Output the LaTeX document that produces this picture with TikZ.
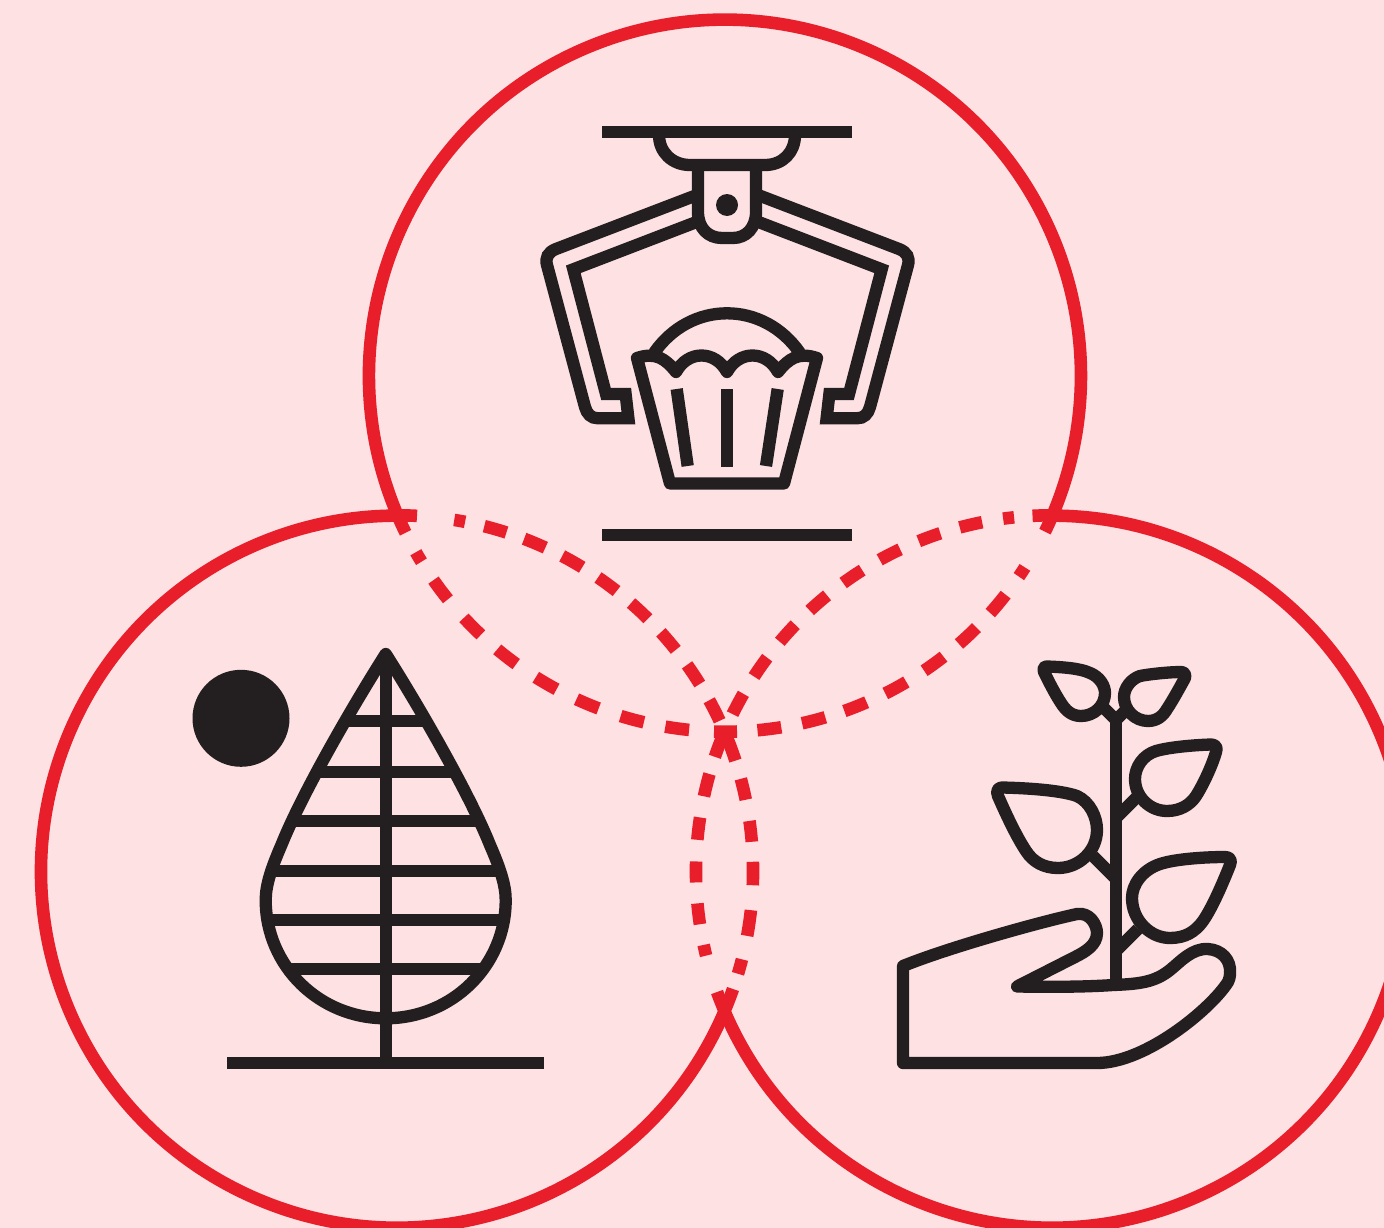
\documentclass[tikz,border=0pt]{standalone}
\definecolor{bgpink}{HTML}{FDE1E3}
\definecolor{ringred}{HTML}{E91E2B}
\definecolor{inkdark}{HTML}{231F20}
\tikzset{
  ring/.style={ringred, line width=12.6pt},
  toplow/.style={ring, dash pattern=on 18.6pt off 22pt on 11pt off 22pt on 24pt off 24.5pt on 24pt off 21.9pt on 24pt off 23.6pt on 24pt off 22.3pt on 24pt off 23.3pt on 24pt off 21.9pt on 24pt off 25pt on 23pt off 20.5pt on 24pt off 21.2pt on 24pt off 20pt on 24pt off 20.6pt on 24pt off 21pt on 24pt off 20pt on 24pt off 20pt on 24pt off 22.4pt on 11pt off 41pt on 20pt},
  leftup/.style={ring, dash pattern=on 20pt off 37.5pt on 11pt off 19.7pt on 23pt off 18.8pt on 23pt off 18.8pt on 23pt off 18.8pt on 23pt off 18.8pt on 23pt off 18.8pt on 23pt off 18.8pt on 23pt off 18.8pt on 23pt off 20pt},
  rightup/.style={ring, dash pattern=on 19.5pt off 18.5pt on 11pt off 21.3pt on 23pt off 20.3pt on 23pt off 20.3pt on 23pt off 20.3pt on 23pt off 20.3pt on 23pt off 20.3pt on 23pt off 20.3pt on 23pt off 20.3pt on 23pt off 20pt},
  leftlens/.style={ring, dash pattern=on 31pt off 19pt on 21.5pt off 21.5pt on 21pt off 20pt on 23.5pt off 25pt on 26pt off 24pt on 15pt off 16pt on 24pt off 10pt},
  rightlens/.style={ring, dash pattern=on 27pt off 18pt on 23pt off 21.5pt on 22.5pt off 21.7pt on 21pt off 21pt on 21pt off 21pt on 11pt off 38pt on 24pt off 10pt},
  ink/.style={inkdark, line width=12.3pt},
  inkround/.style={ink, line join=round}
}
\begin{document}
\begin{tikzpicture}[x=1pt,y=-1pt]
  \clip (0,0) rectangle (1384,1228);
  \fill[bgpink] (0,0) rectangle (1384,1228);

  \coordinate (lefttop) at (397,515.3);
  \coordinate (righttop) at (1052,515.3);
  \coordinate (topleft) at (397.8,515.9);
  \coordinate (mid) at (724.5,731.6);
  \coordinate (low) at (724.5,1011.3);

  \draw[ring] (low) arc[start angle=23.1, end angle=270, radius=356];
  \draw[ring] (low) arc[start angle=156.9, end angle=-90, radius=356];
  \draw[ring] (topleft) arc[start angle=156.8, end angle=383.2, radius=356];
  \draw[toplow] (topleft) arc[start angle=156.8, end angle=23.2, radius=356];
  \draw[leftup] (lefttop) arc[start angle=270, end angle=336.9, radius=356];
  \draw[rightup] (righttop) arc[start angle=270, end angle=203.1, radius=356];
  \draw[leftlens] (mid) arc[start angle=336.9, end angle=383.1, radius=356];
  \draw[rightlens] (mid) arc[start angle=203.1, end angle=156.9, radius=356];

  \draw[ink] (602,132) -- (852,132);
  \draw[ink] (602,535) -- (852,535);
  \draw[ink] (659,132) -- (659,135) .. controls (659,152) and (672,165) .. (690,165) -- (765,165) .. controls (783,165) and (795,152) .. (795,135) -- (795,132);
  \draw[ink] (698,165) -- (698,212) .. controls (698,228) and (708,238) .. (722,238) -- (733,238) .. controls (746,238) and (756,228) .. (756,212) -- (756,165);
  \fill[inkdark] (727,205) circle (11);
  \draw[ink] (697,195) -- (556,249) .. controls (548,252) and (545,258) .. (547,265) -- (585,407) .. controls (587,414) and (591,418.3) .. (598,418.3) -- (628.4,418.3) -- (625.6,394) -- (606,394) -- (573.3,269.3) -- (697,221.8);
  \draw[ink] (758,195) -- (899,249) .. controls (907,252) and (910,258) .. (908,265) -- (870,407) .. controls (868,414) and (864,418.3) .. (857,418.3) -- (826.6,418.3) -- (829.4,394) -- (849,394) -- (881.7,269.3) -- (758,221.8);

  \draw[inkround] (637,358) .. controls (655,352) and (665,358) .. (676,372) .. controls (688,350) and (715,350) .. (727,372) .. controls (739,350) and (766,350) .. (778,372) .. controls (789,358) and (799,352) .. (817,358) -- (784,483.5) -- (670,483.5) -- cycle;
  \draw[ink] (654,353) .. controls (672,327) and (699,313.3) .. (727,313.3) .. controls (755,313.3) and (782,327) .. (800,353);
  \draw[ink] (676.7,389) -- (687.7,466);
  \draw[ink] (727,389) -- (727,467);
  \draw[ink] (777.7,389) -- (766,466);

  \fill[inkdark] (241,718.3) circle (48.5);
  \draw[ink] (227,1062.7) -- (544.3,1062.7);
  \draw[ink] (385.7,665) -- (385.7,1062.7);
  \draw[inkround] (385.7,654) .. controls (420,708) and (470,795) .. (490,845) .. controls (500,868) and (505.7,885) .. (505.7,900) .. controls (505.7,966) and (452,1018.3) .. (385.7,1018.3) .. controls (319.4,1018.3) and (265.7,966) .. (265.7,900) .. controls (265.7,885) and (271.4,868) .. (281.4,845) .. controls (301.4,795) and (351.4,708) .. (385.7,654) -- cycle;
  \draw[ink] (343,721) -- (428,721);
  \draw[ink] (318,771.7) -- (453,771.7);
  \draw[ink] (291,820.7) -- (480,820.7);
  \draw[ink] (270,870.7) -- (501,870.7);
  \draw[ink] (269,920) -- (502,920);
  \draw[ink] (289,969.3) -- (482,969.3);

  \draw[inkround] (903,1063) -- (903,966) .. controls (950,947) and (1040,922) .. (1077,914) .. controls (1090,912) and (1097,925) .. (1097,933) .. controls (1097,945) and (1085,952) .. (1075,957) -- (1017,986.5) .. controls (1050,987) and (1085,987) .. (1113,985) .. controls (1140,984) and (1155,982) .. (1170,970) .. controls (1180,962) and (1192,948) .. (1208,949) .. controls (1222,950) and (1231,960) .. (1230,973) .. controls (1230,977) and (1229,980) .. (1228,982) .. controls (1210,1010) and (1145,1063) .. (1097,1063) -- cycle;
  \draw[ink] (1116,720) -- (1116,983);
  \draw[ink] (1103,707) -- (1116,720) -- (1127,709);
  \draw[ink] (1116,818) -- (1137,797);
  \draw[ink] (1116,879) -- (1093,856);
  \draw[ink] (1116,951) -- (1138,929);
  \draw[inkround] (1225,857) .. controls (1205,857) and (1175,859) .. (1160,864) .. controls (1142,870) and (1132,885) .. (1132,898) .. controls (1132,920) and (1150,938) .. (1170,938) .. controls (1185,938) and (1195,932) .. (1203,921) .. controls (1212,908) and (1222,885) .. (1230,865) .. controls (1232,860) and (1230,857) .. (1225,857) -- cycle;
  \draw[inkround] (1211,744.5) .. controls (1195,745) and (1170,747) .. (1156,751) .. controls (1143,755) and (1135,767) .. (1135,779) .. controls (1135,797) and (1150,811) .. (1167,811) .. controls (1180,811) and (1190,805) .. (1196,796) .. controls (1203,785) and (1212,766) .. (1216,752) .. controls (1218,747) and (1215,744.5) .. (1211,744.5) -- cycle;
  \draw[inkround] (1002,787.5) .. controls (1025,788) and (1060,790) .. (1077,796) .. controls (1090,802) and (1097,817) .. (1097,830) .. controls (1097,851) and (1079,868) .. (1058,868) .. controls (1044,868) and (1033,862) .. (1026,851) .. controls (1016,836) and (1005,812) .. (998,796) .. controls (996,791) and (998,787.5) .. (1002,787.5) -- cycle;
  \draw[inkround] (1047,666.5) .. controls (1060,667) and (1080,668) .. (1090,673) .. controls (1100,677) and (1105,686) .. (1105,693) .. controls (1105,706) and (1094,716) .. (1081,716) .. controls (1072,716) and (1066,711) .. (1061,703) .. controls (1055,694) and (1048,680) .. (1044,672) .. controls (1043,668) and (1044,666.5) .. (1047,666.5) -- cycle;
  \draw[inkround] (1181,672) .. controls (1170,672) and (1150,674) .. (1140,676) .. controls (1131,679) and (1124,688) .. (1124,697) .. controls (1124,710) and (1135,721) .. (1148,721) .. controls (1157,721) and (1163,716) .. (1167,709) .. controls (1173,700) and (1180,687) .. (1185,678) .. controls (1186,674) and (1184,672) .. (1181,672) -- cycle;
\end{tikzpicture}
\end{document}
